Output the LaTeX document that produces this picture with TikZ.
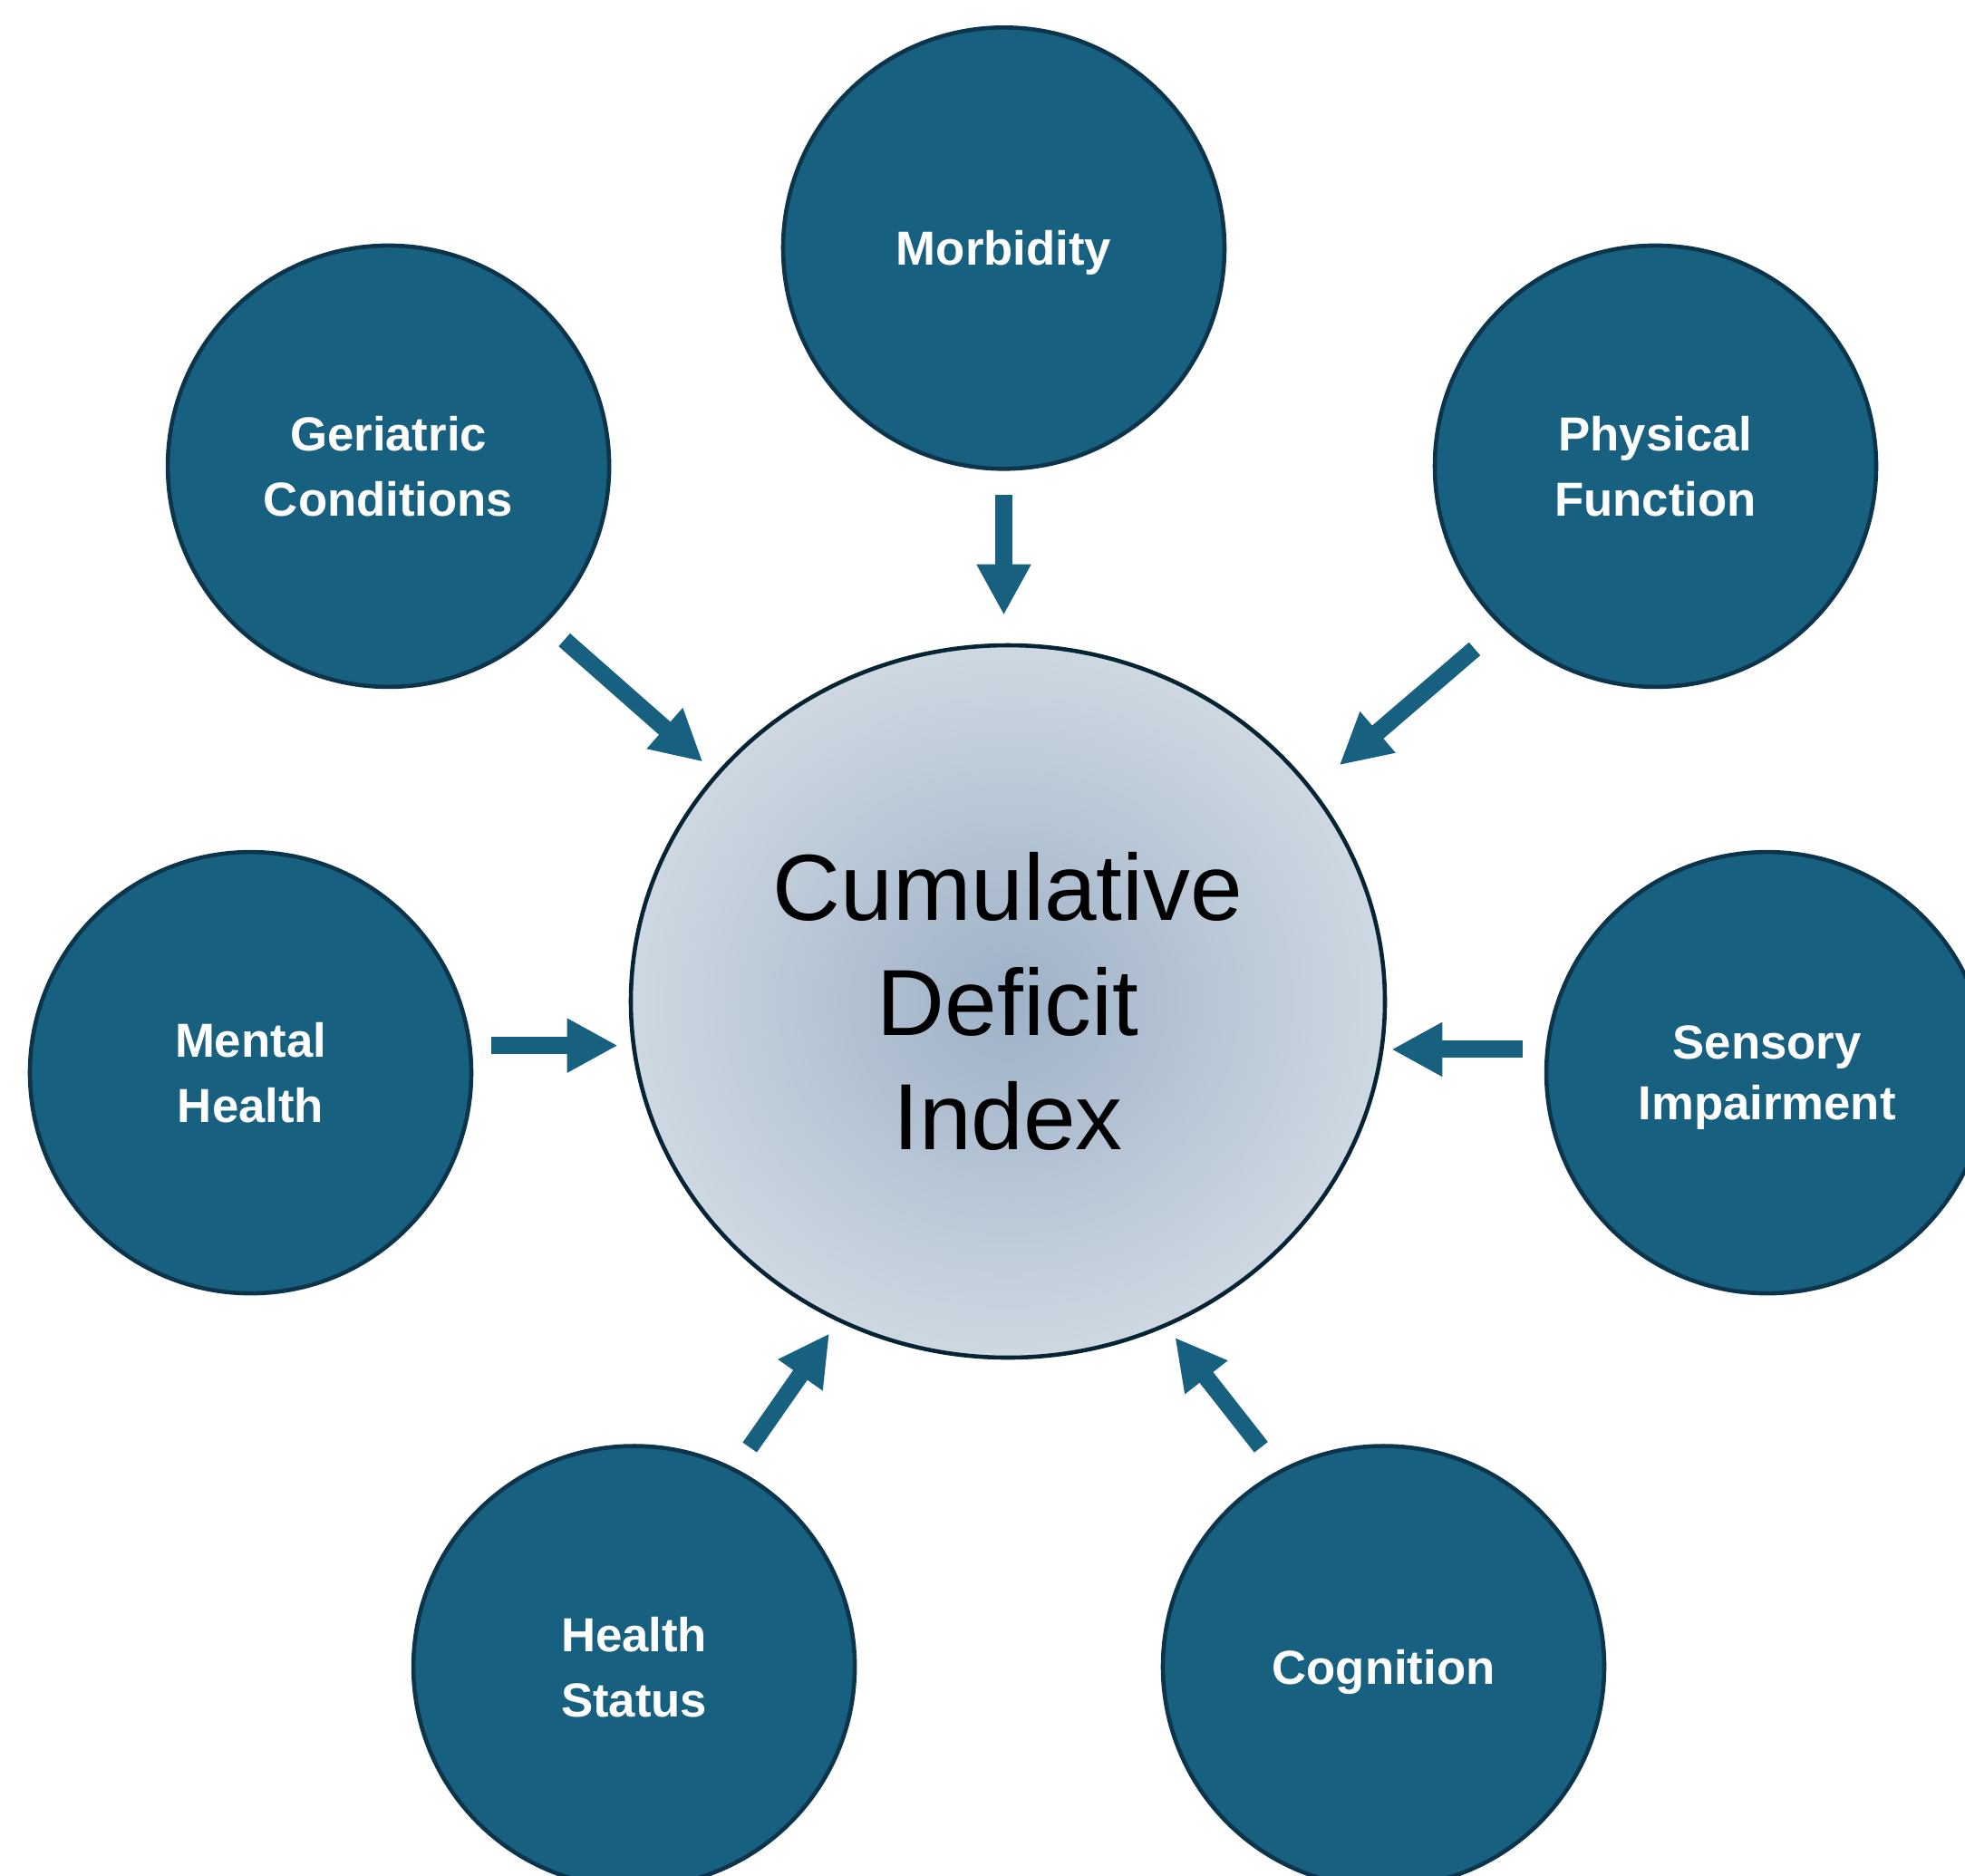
\documentclass[tikz,border=0pt]{standalone}
\usepackage{fontspec}
\setmainfont{Liberation Sans}
\usetikzlibrary{arrows.meta,shapes.geometric}
\definecolor{deepteal}{RGB}{24, 96, 128}
\definecolor{darkteal}{RGB}{12, 52, 74}
\definecolor{ink}{RGB}{6, 36, 52}
\definecolor{mist}{RGB}{158, 177, 199}
\definecolor{frost}{RGB}{206, 216, 226}
\tikzset{bluecircle/.style={circle,draw=darkteal,line width=1.3pt,fill=deepteal,minimum size=4.87cm,inner sep=0pt,text=white,text depth=0pt,align=center,font=\fontsize{15}{20.5}\selectfont\bfseries}}
\tikzset{centercircle/.style={ellipse,draw=ink,line width=1.3pt,inner color=mist,outer color=frost,minimum width=8.32cm,minimum height=7.86cm,inner sep=0pt,align=center,font=\fontsize{29.5}{36}\selectfont}}
\tikzset{bluearrow/.style={-{Triangle[width=0.56cm,length=0.56cm]},line width=0.19cm,deepteal}}

\begin{document}
\begin{tikzpicture}
	\useasboundingbox (0,0) rectangle (21.68,-20.69);
	\node[centercircle] (cdi) at (11.12,-11.05) {Cumulative\\Deficit\\Index};
	\node[bluecircle] (morbidity) at (11.075,-2.738) {Morbidity};
	\node[bluecircle] (geriatric) at (4.286,-5.144) {Geriatric\\Conditions};
	\node[bluecircle] (physical) at (18.265,-5.144) {Physical\\Function};
	\node[bluecircle] (mental) at (2.765,-11.836) {Mental\\Health};
	\node[bluecircle,font=\fontsize{15}{19}\selectfont\bfseries] (sensory) at (19.496,-11.836) {Sensory\\Impairment};
	\node[bluecircle] (healthstatus) at (6.996,-18.39) {Health\\Status};
	\node[bluecircle] (cognition) at (15.265,-18.39) {Cognition};
	\draw[bluearrow,shorten <=0.26cm,shorten >=0.31cm] (morbidity.south) -- (morbidity.south |- cdi.north);
	\draw[bluearrow,shorten <=0.27cm,shorten >=0.19cm] (geriatric.-45.6) -- (cdi.142.5);
	\draw[bluearrow,shorten <=0.38cm,shorten >=0.39cm] (physical.-134.8) -- (cdi.35.3);
	\draw[bluearrow,shorten <=0.22cm,shorten >=0.12cm] (mental.7.8) -- (mental.7.8 -| cdi.west);
	\draw[bluearrow,shorten <=0.25cm,shorten >=0.05cm] (sensory.174.7) -- (sensory.174.7 -| cdi.east);
	\draw[bluearrow,shorten <=0.28cm,shorten >=0.16cm] (healthstatus.63) -- (cdi.-118.4);
	\draw[bluearrow,shorten <=0.32cm,shorten >=0.15cm] (cognition.118.1) -- (cdi.-64.4);
\end{tikzpicture}
\end{document}
